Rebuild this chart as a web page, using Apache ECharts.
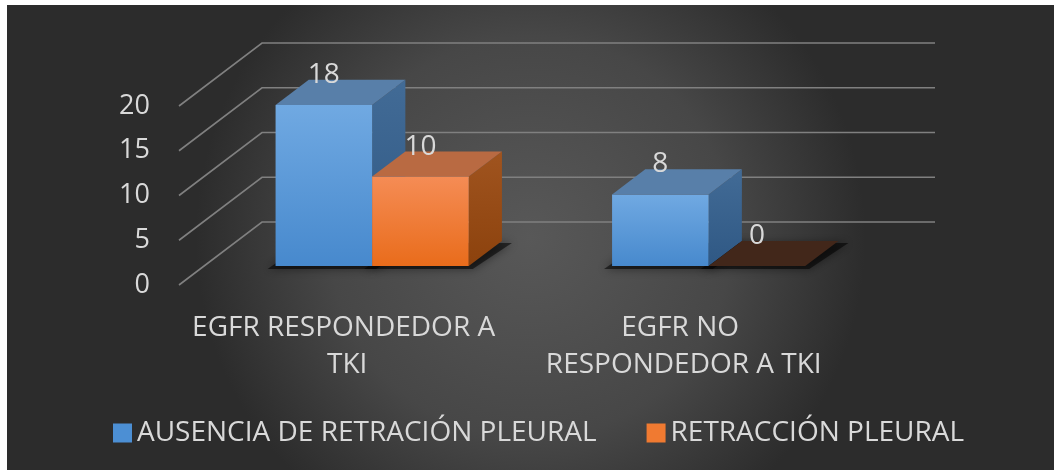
<!DOCTYPE html>
<html>
<head>
<meta charset="utf-8">
<style>
  html, body { margin: 0; padding: 0; background: #ffffff; }
  #chart { width: 1054px; height: 470px; }
</style>
<script src="https://cdn.jsdelivr.net/npm/echarts@6/dist/echarts.min.js"></script>
</head>
<body>
<div id="chart"></div>
<script>
// Categories, series values and value-axis ticks
const categories = ['EGFR RESPONDEDOR A TKI', 'EGFR NO RESPONDEDOR A TKI'];
const seriesNames = ['AUSENCIA DE RETRACIÓN PLEURAL', 'RETRACCIÓN PLEURAL'];
const ausenciaValues = [18, 8];
const retraccionValues = [10, 0];
const yTicks = [0, 5, 10, 15, 20];

// Pseudo-3D projection: a full step of depth moves a point right and up
const DEPTH_X = 83, DEPTH_Y = -63;
const BAR_D0 = 0.3, BAR_D1 = 0.7;      // bars sit in the middle of the floor
const BAR_FRACTION = 0.287;            // width of one bar relative to a category

const TEXT = '#d9d9d9';
const FONT = '"Open Sans", "Noto Sans", sans-serif';

const palette = [
  { front: ['#70a9e2', '#4789cd'], top: '#587fa9', side: ['#426b96', '#2f5884'], zeroTop: '#24384f', legend: '#4c8fd4' },
  { front: ['#f58c55', '#e96c1b'], top: '#b96a42', side: ['#a0541f', '#8c420d'], zeroTop: '#42271a', legend: '#f07a31' }
];

function lin(c) {
  return new echarts.graphic.LinearGradient(0, 0, 0, 1, [
    { offset: 0, color: c[0] }, { offset: 1, color: c[1] }
  ]);
}

function barGeom(api, s) {
  const cat = api.value(0), val = api.value(1);
  const base = api.coord([cat, 0]);
  const top = api.coord([cat, val]);
  const bw = api.size([1, 0])[0] * BAR_FRACTION;
  const fx = DEPTH_X * BAR_D0, fy = DEPTH_Y * BAR_D0;
  const dx = DEPTH_X * (BAR_D1 - BAR_D0), dy = DEPTH_Y * (BAR_D1 - BAR_D0);
  const x0 = base[0] + (s === 0 ? -bw : 0) + fx;
  return { x0: x0, x1: x0 + bw, yT: top[1] + fy, yB: base[1] + fy, dx: dx, dy: dy, val: val };
}

function makeBarRenderer(s) {
  const p = palette[s];
  return function (params, api) {
    const g = barGeom(api, s);
    const children = [];
    if (g.val > 0) {
      children.push({
        type: 'polygon',
        shape: { points: [[g.x1, g.yT], [g.x1 + g.dx, g.yT + g.dy], [g.x1 + g.dx, g.yB + g.dy], [g.x1, g.yB]] },
        style: { fill: lin(p.side) }
      });
      children.push({
        type: 'rect',
        shape: { x: g.x0, y: g.yT, width: g.x1 - g.x0, height: g.yB - g.yT },
        style: { fill: lin(p.front) }
      });
    }
    children.push({
      type: 'polygon',
      shape: { points: [[g.x0, g.yT], [g.x1, g.yT], [g.x1 + g.dx, g.yT + g.dy], [g.x0 + g.dx, g.yT + g.dy]] },
      style: { fill: g.val > 0 ? p.top : p.zeroTop }
    });
    children.push({
      type: 'text',
      style: {
        x: (g.x0 + g.x1) / 2, y: g.yT - 30,
        text: String(g.val), fill: TEXT, font: '28px ' + FONT,
        align: 'center', verticalAlign: 'middle'
      }
    });
    return { type: 'group', children: children };
  };
}

// Soft dark shadow under each bar footprint
function renderShadow(params, api) {
  const children = [];
  [api.value(1), api.value(2)].forEach(function (v, s) {
    const cat = api.value(0);
    const base = api.coord([cat, 0]);
    const bw = api.size([1, 0])[0] * BAR_FRACTION;
    const x0 = base[0] + (s === 0 ? -bw : 0) + DEPTH_X * BAR_D0;
    const y0 = base[1] + DEPTH_Y * BAR_D0;
    const dx = DEPTH_X * (BAR_D1 - BAR_D0), dy = DEPTH_Y * (BAR_D1 - BAR_D0);
    children.push({
      type: 'polygon',
      shape: { points: [[x0 - 8, y0 + 3], [x0 + bw + 4, y0 + 3], [x0 + bw + dx + 10, y0 + dy + 2], [x0 + dx - 4, y0 + dy + 2]] },
      style: { fill: 'rgba(0,0,0,0.55)', shadowBlur: 10, shadowColor: 'rgba(0,0,0,0.8)' }
    });
  });
  return { type: 'group', children: children };
}

// Back-wall gridlines with their diagonal run back from the value axis
function renderWall(params, api) {
  const v = api.value(1);
  const cs = params.coordSys;
  const p = api.coord([0, v]);
  const x = cs.x, y = p[1];
  return {
    type: 'polyline',
    shape: { points: [[x, y], [x + DEPTH_X, y + DEPTH_Y], [x + cs.width + DEPTH_X, y + DEPTH_Y]] },
    style: { stroke: '#808080', lineWidth: 1.6, fill: null }
  };
}

const chart = echarts.init(document.getElementById('chart'), null, { renderer: 'canvas' });
chart.setOption({
  backgroundColor: '#ffffff',
  animation: false,
  graphic: [{
    type: 'rect', z: -10, silent: true,
    shape: { x: 7, y: 5, width: 1047, height: 465 },
    style: {
      fill: new echarts.graphic.RadialGradient(0.5, 0.5, 0.72, [
        { offset: 0, color: '#585858' },
        { offset: 0.6, color: '#474747' },
        { offset: 1, color: '#2c2c2c' }
      ])
    }
  }],
  grid: { left: 179, top: 106, width: 673, bottom: 185 },
  xAxis: {
    type: 'category',
    data: categories,
    axisLine: { show: false },
    axisTick: { show: false },
    axisLabel: {
      color: TEXT, fontFamily: FONT, fontSize: 28, lineHeight: 37,
      margin: 25, width: 315, overflow: 'break', interval: 0
    }
  },
  yAxis: {
    type: 'value', min: 0, max: 20, interval: 5,
    axisLine: { show: false },
    axisTick: { show: false },
    splitLine: { show: false },
    axisLabel: { color: TEXT, fontFamily: FONT, fontSize: 27, margin: 29 }
  },
  legend: {
    data: seriesNames,
    left: 113, top: 419, padding: 0,
    icon: 'rect', itemWidth: 19, itemHeight: 19, itemGap: 50, itemTextGap: 6,
    textStyle: { color: TEXT, fontFamily: FONT, fontSize: 28 }
  },
  series: [
    {
      type: 'custom', name: 'wall', z: 1, silent: true,
      data: yTicks.map(function (t) { return [0, t]; }),
      encode: { x: 0, y: 1 },
      renderItem: renderWall
    },
    {
      type: 'custom', name: 'shadow', z: 2, silent: true,
      data: categories.map(function (c, i) { return [i, ausenciaValues[i], retraccionValues[i]]; }),
      encode: { x: 0, y: [1, 2] },
      renderItem: renderShadow
    },
    {
      type: 'custom', name: seriesNames[0], z: 3,
      itemStyle: { color: palette[0].legend },
      data: categories.map(function (c, i) { return [i, ausenciaValues[i]]; }),
      encode: { x: 0, y: 1 },
      renderItem: makeBarRenderer(0)
    },
    {
      type: 'custom', name: seriesNames[1], z: 4,
      itemStyle: { color: palette[1].legend },
      data: categories.map(function (c, i) { return [i, retraccionValues[i]]; }),
      encode: { x: 0, y: 1 },
      renderItem: makeBarRenderer(1)
    }
  ]
});
</script>
</body>
</html>
